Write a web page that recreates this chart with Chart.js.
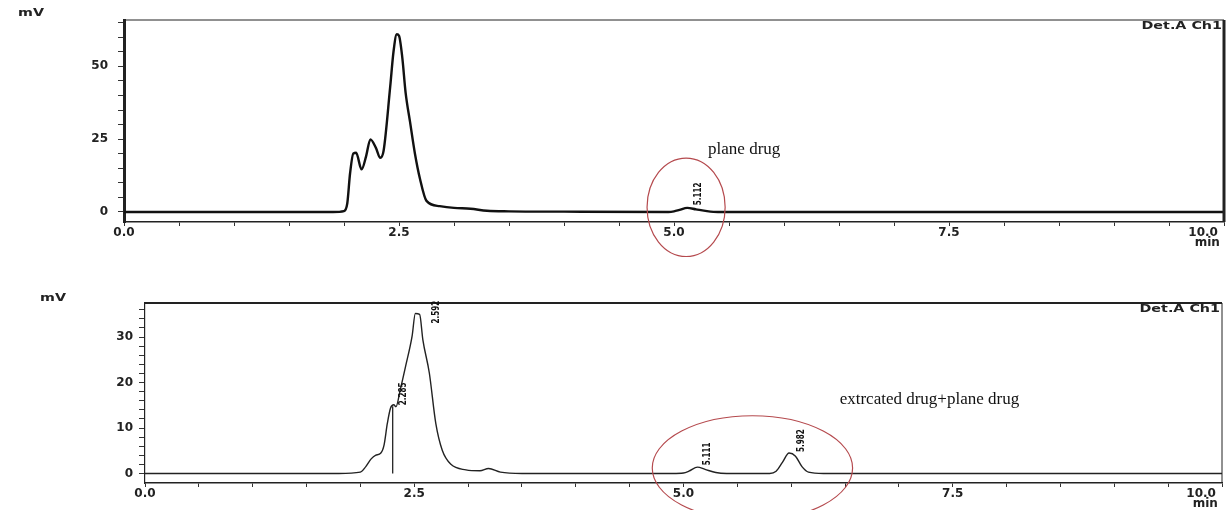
<!DOCTYPE html>
<html>
<head>
<title>Chromatogram - plane drug vs extracted drug</title>
<script src="https://cdn.jsdelivr.net/npm/chart.js"></script>
<style>
    body { margin: 0; background: #fff; overflow: hidden; width: 1227px; height: 510px; position: relative; }
    .panel { position: absolute; left: 0; width: 1227px; }
    #topPanel { top: 0; height: 280px; }
    #bottomPanel { top: 280px; height: 230px; }
</style>
</head>
<body>
<div class="panel" id="topPanel"><canvas id="topChart"></canvas></div>
<div class="panel" id="bottomPanel"><canvas id="bottomChart"></canvas></div>
<script>
// top run: plane drug (time in min, signal in mV)
const topTime   = [0, 1.9, 2.0, 2.03, 2.055, 2.085, 2.11, 2.16, 2.2, 2.24, 2.29, 2.33, 2.36, 2.42, 2.45, 2.48, 2.5, 2.53, 2.56, 2.6, 2.645, 2.69, 2.75, 2.87, 3.0, 3.15, 3.3, 3.5, 4.0, 4.95, 5.0, 5.05, 5.12, 5.2, 5.3, 5.4, 6.0, 10];
const topSignal = [0, 0, 0.3, 3, 13.2, 20.1, 20.3, 14.6, 19, 24.9, 22, 18.6, 21, 43, 55, 61, 60.5, 53, 41, 31, 20, 11.5, 3.8, 2, 1.4, 1.1, 0.4, 0.2, 0.1, 0, 0.2, 0.7, 1.4, 0.9, 0.3, 0, 0, 0];
const topPeakTimes   = [5.112];
const topPeakHeights = [2.3];

// bottom run: extracted drug + plane drug
const botTime   = [0, 1.8, 2.0, 2.05, 2.1, 2.14, 2.19, 2.22, 2.25, 2.28, 2.31, 2.33, 2.37, 2.42, 2.48, 2.51, 2.55, 2.58, 2.64, 2.7, 2.76, 2.84, 2.98, 3.11, 3.19, 3.3, 3.5, 4.9, 5.0, 5.05, 5.13, 5.2, 5.3, 5.4, 5.8, 5.86, 5.92, 5.98, 6.04, 6.1, 6.16, 6.3, 10];
const botSignal = [0, 0, 0.3, 1.5, 3.2, 4.0, 4.5, 6.3, 11, 14.4, 15.1, 14.7, 18.4, 23.6, 30.2, 35.2, 35, 29.4, 22.1, 11, 5.1, 2, 0.8, 0.6, 1.1, 0.3, 0, 0, 0.1, 0.5, 1.4, 0.9, 0.2, 0, 0, 0.5, 2.5, 4.5, 3.8, 1.5, 0.3, 0, 0];
const botDropTime   = [2.30, 2.30];
const botDropSignal = [0, 14.8];
const botPeakTimes   = [2.285, 2.592, 5.111, 5.982];
const botPeakHeights = [15, 33, 1.8, 4.7];

// axis ticks
const xTickValues = [0, 0.5, 1, 1.5, 2, 2.5, 3, 3.5, 4, 4.5, 5, 5.5, 6, 6.5, 7, 7.5, 8, 8.5, 9, 9.5, 10];
const xLabelValues = [0, 2.5, 5, 7.5, 10];
const xLabelText = ['0.0', '2.5', '5.0', '7.5', '10.0'];
const topYTicks = [0, 5, 10, 15, 20, 25, 30, 35, 40, 45, 50, 55, 60, 65];
const topYLabels = [0, 25, 50];
const botYTicks = [0, 2, 4, 6, 8, 10, 12, 14, 16, 18, 20, 22, 24, 26, 28, 30, 32, 34, 36];
const botYLabels = [0, 10, 20, 30];

function xLabel(v) {
    const i = xLabelValues.indexOf(v);
    if (i < 0) return '';
    // last label sits left of the tick with the unit under it
    if (i === xLabelValues.length - 1) return [xLabelText[i] + '          ', 'min' + '        '];
    return xLabelText[i];
}

function toPoints(xs, ys) {
    return xs.map((x, i) => ({ x: x, y: ys[i] }));
}

// frame, detector tag, peak labels, ellipses and notes
function notesPlugin(opts) {
    return {
        id: 'notes',
        afterDraw(chart) {
            const ctx = chart.ctx;
            const a = chart.chartArea;
            const xs = chart.scales.x, ys = chart.scales.y;
            ctx.save();

            // top + right frame lines
            ctx.strokeStyle = '#222';
            ctx.lineWidth = opts.topFrame;
            ctx.beginPath(); ctx.moveTo(a.left, a.top); ctx.lineTo(a.right, a.top); ctx.stroke();
            ctx.lineWidth = opts.rightFrame;
            ctx.beginPath(); ctx.moveTo(a.right, a.top); ctx.lineTo(a.right, a.bottom); ctx.stroke();

            // unit label
            ctx.fillStyle = '#222';
            ctx.font = 'bold 11px "DejaVu Sans"';
            ctx.textBaseline = 'middle';
            ctx.textAlign = 'left';
            ctx.save();
            ctx.translate(opts.mvPos[0], opts.mvPos[1]);
            ctx.scale(1.3, 1);
            ctx.fillText('mV', 0, 0);
            ctx.restore();

            // detector tag
            ctx.save();
            ctx.translate(a.right - 2, a.top + 6);
            ctx.scale(1.3, 1);
            ctx.textAlign = 'right';
            ctx.fillText('Det.A Ch1', 0, 0);
            ctx.restore();

            // retention time labels
            ctx.fillStyle = '#111';
            ctx.font = 'bold 10px "DejaVu Sans"';
            opts.peakTimes.forEach((t, i) => {
                const px = xs.getPixelForValue(t) + 12;
                const py = ys.getPixelForValue(opts.peakHeights[i]);
                ctx.save();
                ctx.translate(px, py);
                ctx.rotate(-Math.PI / 2);
                ctx.scale(0.72, 1);
                ctx.textAlign = 'left';
                ctx.textBaseline = 'middle';
                ctx.fillText(t.toFixed(3), 0, 0);
                ctx.restore();
            });

            // red ellipse around region of interest
            const e = opts.ellipse;
            const cx = xs.getPixelForValue(e.x), cy = ys.getPixelForValue(e.y);
            const rx = Math.abs(xs.getPixelForValue(e.x + e.rx) - cx);
            const ry = Math.abs(ys.getPixelForValue(e.y + e.ry) - cy);
            ctx.strokeStyle = '#b54a4e';
            ctx.lineWidth = 1.2;
            ctx.beginPath();
            ctx.ellipse(cx, cy, rx, ry, 0, 0, Math.PI * 2);
            ctx.stroke();

            // note text
            ctx.fillStyle = '#111';
            ctx.font = '17px "Liberation Serif"';
            ctx.textAlign = 'left';
            ctx.textBaseline = 'middle';
            ctx.fillText(opts.note.text, xs.getPixelForValue(opts.note.x), ys.getPixelForValue(opts.note.y));

            ctx.restore();
        }
    };
}

function makeChart(id, cfg) {
    const tickFont = { family: 'DejaVu Sans', weight: 'bold', size: 12, lineHeight: 0.9 };
    return new Chart(document.getElementById(id), {
        type: 'line',
        data: { datasets: cfg.datasets },
        options: {
            responsive: true,
            maintainAspectRatio: false,
            animation: false,
            layout: { padding: { top: cfg.padTop, right: cfg.padRight, left: 0, bottom: 0 } },
            plugins: { legend: { display: false }, tooltip: { enabled: false } },
            scales: {
                x: {
                    type: 'linear', min: 0, max: 10, bounds: 'data',
                    afterBuildTicks: s => { s.ticks = xTickValues.map(v => ({ value: v })); },
                    afterFit: s => { s.height = cfg.xHeight; s.paddingLeft = 0; s.paddingRight = 0; },
                    ticks: { autoSkip: false, maxRotation: 0, padding: 1, color: '#222', font: tickFont, callback: v => xLabel(v) },
                    grid: { drawOnChartArea: false, tickLength: 4, color: '#333' },
                    border: { display: true, color: '#222', width: 1.5 }
                },
                y: {
                    type: 'linear', min: cfg.yMin, max: cfg.yMax, bounds: 'data',
                    afterBuildTicks: s => { s.ticks = cfg.yTicks.map(v => ({ value: v })); },
                    afterFit: s => { s.width = cfg.yWidth; },
                    ticks: { autoSkip: false, padding: cfg.yPad, color: '#222', font: tickFont,
                        callback: v => cfg.yLabels.includes(v) ? String(v) : '' },
                    grid: { drawOnChartArea: false, tickLength: 6, color: '#333' },
                    border: { display: true, color: '#222', width: cfg.yBorder }
                }
            }
        },
        plugins: [notesPlugin(cfg.notes)]
    });
}

makeChart('topChart', {
    datasets: [{
        data: toPoints(topTime, topSignal),
        borderColor: '#111', borderWidth: 2.4, pointRadius: 0, cubicInterpolationMode: 'monotone'
    }],
    padTop: 20, padRight: 3, xHeight: 58, yWidth: 124, yPad: 10, yBorder: 3,
    yMin: -3.45, yMax: 65.9, yTicks: topYTicks, yLabels: topYLabels,
    notes: {
        topFrame: 1, rightFrame: 3, mvPos: [18, 13],
        peakTimes: topPeakTimes, peakHeights: topPeakHeights,
        ellipse: { x: 5.11, y: 1.6, rx: 0.355, ry: 16.9 },
        note: { text: 'plane drug', x: 5.31, y: 21.6 }
    }
});

makeChart('bottomChart', {
    datasets: [{
        data: toPoints(botTime, botSignal),
        borderColor: '#222', borderWidth: 1.4, pointRadius: 0, cubicInterpolationMode: 'monotone'
    }, {
        data: toPoints(botDropTime, botDropSignal),
        borderColor: '#111', borderWidth: 1.2, pointRadius: 0
    }],
    padTop: 23, padRight: 5, xHeight: 27, yWidth: 145, yPad: 6, yBorder: 1.2,
    yMin: -2.1, yMax: 37.5, yTicks: botYTicks, yLabels: botYLabels,
    notes: {
        topFrame: 2, rightFrame: 1, mvPos: [40, 18],
        peakTimes: botPeakTimes, peakHeights: botPeakHeights,
        ellipse: { x: 5.64, y: 1.2, rx: 0.93, ry: 11.5 },
        note: { text: 'extrcated drug+plane drug', x: 6.45, y: 16.2 }
    }
});
</script>
</body>
</html>
